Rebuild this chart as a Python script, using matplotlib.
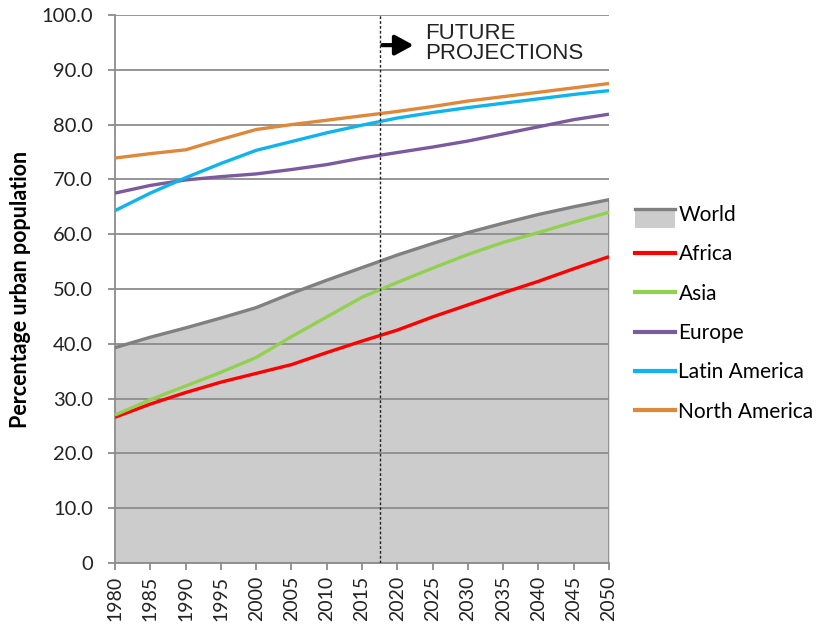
import matplotlib
matplotlib.use("Agg")
import matplotlib.pyplot as plt
from matplotlib.lines import Line2D
from matplotlib.patches import Patch, Rectangle
from matplotlib.legend_handler import HandlerBase

# urban population share (%)
years = [1980, 1985, 1990, 1995, 2000, 2005, 2010, 2015, 2020, 2025, 2030, 2035, 2040, 2045, 2050]
world = [39.3, 41.2, 42.9, 44.7, 46.6, 49.2, 51.6, 53.9, 56.2, 58.3, 60.3, 62.0, 63.6, 65.0, 66.3]
africa = [26.6, 29.0, 31.1, 33.0, 34.6, 36.2, 38.4, 40.5, 42.5, 44.9, 47.1, 49.3, 51.4, 53.7, 55.9]
asia = [27.0, 29.8, 32.3, 34.8, 37.5, 41.3, 44.9, 48.5, 51.2, 53.8, 56.3, 58.5, 60.3, 62.2, 64.0]
europe = [67.5, 68.9, 69.9, 70.5, 71.0, 71.8, 72.7, 73.9, 74.9, 75.9, 77.0, 78.3, 79.6, 80.9, 81.9]
latin_america = [64.3, 67.5, 70.3, 72.9, 75.3, 76.9, 78.5, 79.9, 81.2, 82.2, 83.1, 83.9, 84.7, 85.5, 86.2]
north_america = [73.9, 74.7, 75.4, 77.3, 79.1, 80.0, 80.8, 81.6, 82.4, 83.3, 84.3, 85.1, 85.9, 86.7, 87.5]
projection_start = 2017.5

ytick_vals = [0, 10, 20, 30, 40, 50, 60, 70, 80, 90, 100]
ytick_labels = ["0", "10.0", "20.0", "30.0", "40.0", "50.0", "60.0", "70.0", "80.0", "90.0", "100.0"]

plt.rcParams['font.family'] = ['Lato', 'DejaVu Sans']

fig = plt.figure(figsize=(8.23, 6.25), dpi=100)
ax = fig.add_axes([115/823, 1-563/625, (609-115)/823, (563-15)/625])

grid_col = '#8c8c8c'
for v in ytick_vals:
    ax.axhline(v, color=grid_col, lw=1.3, zorder=1)

ax.fill_between(years, world, 0, color='#cccccc', lw=0, zorder=0.5)
ax.plot(years, world, color='#808080', lw=2.4, zorder=3)
ax.plot([years[-1], years[-1]], [0, world[-1]], color=grid_col, lw=1.3, zorder=2)

series = [
    (africa, '#ff0000', 'Africa'),
    (asia, '#92d050', 'Asia'),
    (europe, '#7b5a9e', 'Europe'),
    (latin_america, '#0fb4ee', 'Latin America'),
    (north_america, '#e0883a', 'North America'),
]
for vals, col, lab in series:
    ax.plot(years, vals, color=col, lw=2.4, zorder=4, solid_capstyle='butt')

ax.axvline(projection_start, color='#222222', lw=1.0, ls=(0, (2, 1.5)), zorder=5)
ax.annotate('', xy=(2022.7, 94.5), xytext=(2017.5, 94.5),
            arrowprops=dict(arrowstyle='-|>,head_length=1.1,head_width=0.6', color='black', lw=3))
ax.text(2024.0, 98.6, 'FUTURE\nPROJECTIONS', family='Liberation Sans', fontsize=16,
        va='top', ha='left', color='#222222', linespacing=0.95)

ax.set_xlim(1980, 2050)
ax.set_ylim(0, 100)
ax.set_xticks(years)
ax.set_xticklabels([str(y) for y in years], rotation=90, fontsize=14, color='#222222')
ax.set_yticks(ytick_vals)
ax.set_yticklabels(ytick_labels, fontsize=14.5, color='#222222')
ax.tick_params(axis='both', length=5, width=1.3, color=grid_col, pad=4)
ax.tick_params(axis='y', pad=11)
for s in ['top', 'right']:
    ax.spines[s].set_visible(False)
for s in ['left', 'bottom']:
    ax.spines[s].set_color(grid_col)
    ax.spines[s].set_linewidth(1.3)

ax.set_ylabel('Percentage urban population', fontsize=15.5, fontweight='bold', labelpad=7)


class WorldHandler(HandlerBase):
    def create_artists(self, legend, orig_handle, xdescent, ydescent, width, height, fontsize, trans):
        r = Rectangle((-xdescent, -ydescent - 5), width, height + 3, facecolor='#cccccc',
                      edgecolor='none', transform=trans)
        ln = Line2D([-xdescent, -xdescent + width], [height - 2, height - 2], color='#808080', lw=2.4, transform=trans)
        return [r, ln]


world_handle = Patch(facecolor='#cccccc')
handles = [world_handle] + [Line2D([0], [0], color=c, lw=3) for _, c, _ in series]
labels = ['World'] + [lab for _, _, lab in series]
fig.legend(handles, labels, loc='upper left', bbox_to_anchor=(616/823, 1-186/625),
           frameon=False, fontsize=15, handlelength=1.95, handletextpad=0.15,
           labelspacing=0.93, handler_map={Patch: WorldHandler()})

fig.savefig('out.png', dpi=100)
